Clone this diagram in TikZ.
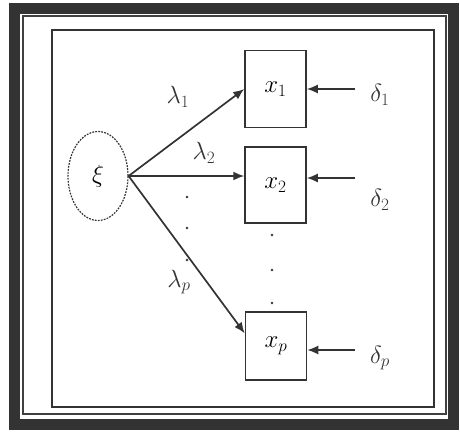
\documentclass[tikz,border=0pt]{standalone}
\usetikzlibrary{shapes.geometric,arrows.meta}
\tikzset{
  obsbox/.style={draw=black!80,line width=1.5pt,minimum width=61pt,minimum height=77pt,inner sep=0pt,font=\fontsize{24}{28}\selectfont},
  latbox/.style={ellipse,draw=black!80,line width=1.2pt,dash pattern=on 1.8pt off 1.2pt,minimum width=60pt,minimum height=89pt,inner sep=0pt,font=\fontsize{28}{32}\selectfont},
  lab/.style={font=\fontsize{24}{28}\selectfont,inner sep=0pt,text=black!80},
  loading/.style={black!80,line width=1.7pt,-{Latex[length=11pt,width=9pt]}}
}
\begin{document}
\begin{tikzpicture}[x=1pt,y=-1pt]
\useasboundingbox (0,0) rectangle (460,431);
\draw[line width=11pt,black!80] (14,8) rectangle (453,424);
\draw[line width=1.5pt,black!75] (23,16) rectangle (446,414);
\draw[line width=1.3pt,black!80] (52,30) rectangle (434,407);
\node[latbox] (xi) at (98,176) {$\xi$};
\node[obsbox] (x1) at (275.5,89) {$x_1$};
\node[obsbox,minimum height=76pt] (x2) at (275.5,185) {$x_2$};
\node[obsbox,minimum height=68pt] (xp) at (276,346) {$x_p$};
\node[lab] (d1) at (380,95) {$\delta_1$};
\node[lab] (d2) at (380,200) {$\delta_2$};
\node[lab] (dp) at (380,358) {$\delta_p$};
\node[lab] (l1) at (178,97) {$\lambda_1$};
\node[lab] (l2) at (204,153) {$\lambda_2$};
\node[lab] (lp) at (179,282) {$\lambda_p$};
\coordinate (s1) at (355,89);
\coordinate (s2) at (355,178);
\coordinate (sp) at (355,350);
\draw[loading] (xi.east) -- (x1.west);
\draw[loading] (xi.east) -- (xi.east -| x2.west);
\draw[loading] (xi.east) -- (xp.158);
\draw[loading] (s1) -- (x1.east);
\draw[loading] (s2) -- (s2 -| x2.east);
\draw[loading] (sp) -- (sp -| xp.east);
\foreach \y in {197,228,260} \fill[black!80] (187,\y) circle (1.4pt);
\foreach \y in {235,270,303} \fill[black!80] (272,\y) circle (1.4pt);
\end{tikzpicture}
\end{document}
